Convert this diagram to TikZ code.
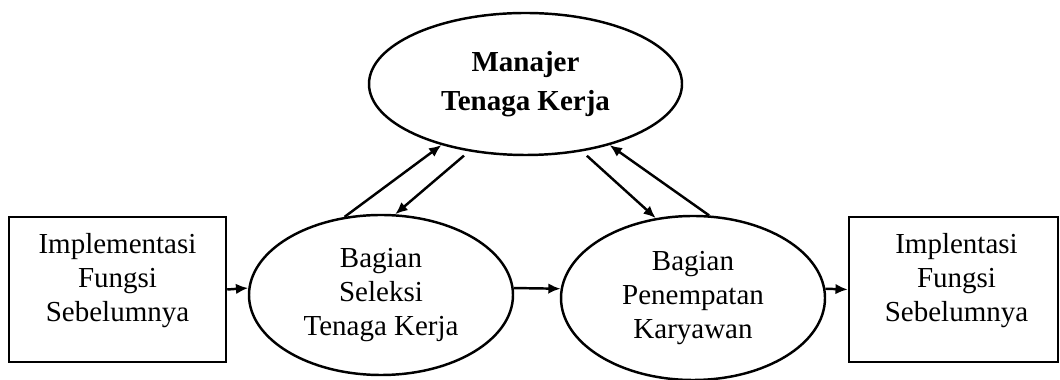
\documentclass[tikz,border=0pt]{standalone}
\usepackage{fontspec}
\setmainfont{Liberation Serif}
\usepackage{tikz}
\usetikzlibrary{arrows.meta,positioning,shapes.geometric}

\begin{document}
\begin{tikzpicture}[
  bagian/.style={ellipse, draw, minimum width=5.28cm, minimum height=3.2cm, align=center, font=\fontsize{16.5}{19.5}\selectfont},
  kotak/.style={rectangle, draw, minimum width=4.34cm, minimum height=2.9cm},
  teks/.style={align=center, font=\fontsize{16.5}{19.2}\selectfont},
  ->, >={Latex[length=7pt,width=6pt]}, line width=1.4pt
]
\useasboundingbox (0,0) rectangle (21.2,7.6);

% Manajer di atas
\node[bagian, minimum width=6.26cm, minimum height=2.84cm, font=\fontsize{16.5}{22}\selectfont\bfseries] (manajer) at (10.51,5.92) {Manajer\\Tenaga Kerja};

% Bagian di bawah
\node[bagian] (seleksi) at (7.62,1.70) {Bagian\\Seleksi\\Tenaga Kerja};
\node[bagian, minimum height=3.28cm] (penempatan) at (13.86,1.64) {Bagian\\Penempatan\\Karyawan};

% Kotak kiri dan kanan
\node[kotak] (impl1) at (2.35,1.81) {};
\node[teks] (impl1teks) at (2.35,1.99) {Implementasi\\Fungsi\\Sebelumnya};
\node[kotak, minimum width=4.18cm] (impl2) at (19.07,1.81) {};
\node[teks] (impl2teks) at (19.13,1.99) {Implentasi\\Fungsi\\Sebelumnya};

% Panah mendatar
\draw (impl1.east) -- (seleksi.177);
\draw (seleksi.3) -- (penempatan.176);
\draw (penempatan.4) -- (impl2.west);

% Panah miring ke dan dari manajer
\draw (seleksi.115) -- (manajer.216);
\draw[shorten <=0.13cm] (manajer.230) -- (seleksi.80);
\draw[shorten <=0.13cm] (manajer.310) -- (penempatan.115);
\draw (penempatan.79) -- (manajer.324);

\end{tikzpicture}
\end{document}
